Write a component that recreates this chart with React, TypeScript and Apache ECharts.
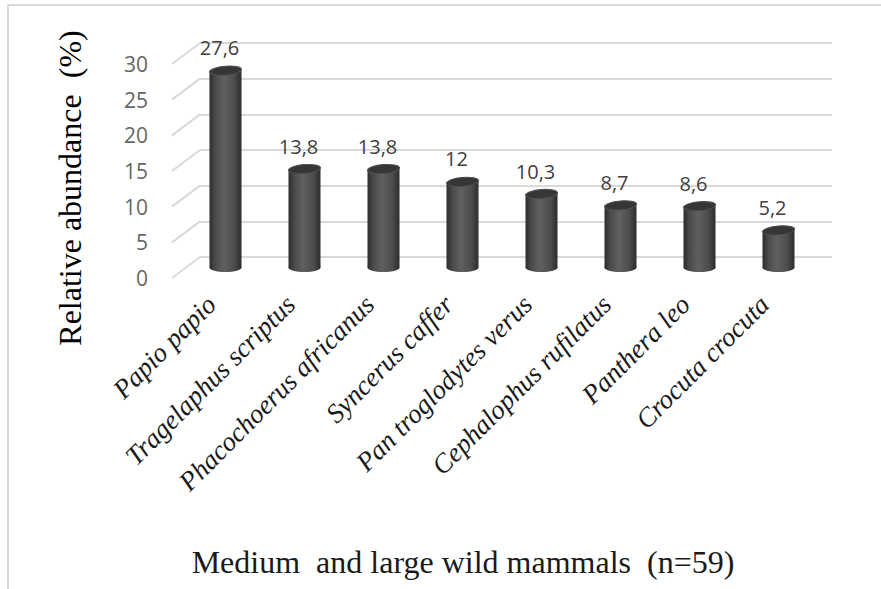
import React, { useEffect, useRef } from "react";
import * as echarts from "echarts";

const categories = [
  "Papio papio",
  "Tragelaphus scriptus",
  "Phacochoerus africanus",
  "Syncerus caffer",
  "Pan troglodytes verus",
  "Cephalophus rufilatus",
  "Panthera leo",
  "Crocuta crocuta",
];
const values = [27.6, 13.8, 13.8, 12, 10.3, 8.7, 8.6, 5.2];
const yTicks = [0, 5, 10, 15, 20, 25, 30];
const yTitle = "Relative abundance  (%)";
const xTitle = "Medium  and large wild mammals  (n=59)";

const BACK_LEFT = 200;
const BACK_TOP = 43;
const PLOT_W = 632;
const PLOT_H = 214;
const DX = 28;
const DY = 21;

const SERIF = "'Liberation Serif', 'Times New Roman', serif";
const SANS = "'Open Sans', 'Noto Sans', sans-serif";

export default function App() {
  const ref = useRef<HTMLDivElement>(null);
  useEffect(() => {
    if (!ref.current) return;
    const chart = echarts.init(ref.current, null, { renderer: "svg" });
    const grid = (k: number) => ({
      left: BACK_LEFT - (DX / 2) * k,
      top: BACK_TOP + (DY / 2) * k,
      width: PLOT_W,
      height: PLOT_H,
    });
    const yBase = { type: "value", min: 0, max: 30, interval: 5 };
    const option: any = {
      animation: false,
      backgroundColor: "#ffffff",
      grid: [grid(0), grid(1), grid(2)],
      xAxis: [0, 1, 2].map((k) => ({
        type: "category",
        gridIndex: k,
        data: categories,
        axisLine: { show: false },
        axisTick: { show: false },
        axisLabel:
          k === 2
            ? {
                show: true,
                interval: 0,
                rotate: 45,
                margin: 22,
                color: "#1a1a1a",
                fontSize: 27,
                fontStyle: "italic",
                fontFamily: SERIF,
              }
            : { show: false },
      })),
      yAxis: [0, 1, 2].map((k) => ({
        ...yBase,
        gridIndex: k,
        axisLine: { show: false },
        axisTick: { show: false },
        splitLine:
          k === 0
            ? { show: true, lineStyle: { color: "#d9d9d9", width: 2 } }
            : { show: false },
        axisLabel:
          k === 2
            ? { show: true, margin: 24, color: "#666666", fontSize: 21, fontFamily: SANS }
            : { show: false },
      })),
      graphic: [
        {
          type: "rect",
          shape: { x: 8, y: 5, width: 900, height: 600 },
          style: { fill: "none", stroke: "#d9d9d9", lineWidth: 2 },
          silent: true,
        },
        {
          type: "text",
          x: 70,
          y: 188,
          rotation: Math.PI / 2,
          style: {
            text: yTitle,
            fill: "#000000",
            fontSize: 32,
            fontFamily: SERIF,
            align: "center",
            verticalAlign: "middle",
          },
        },
        {
          type: "text",
          x: 463,
          y: 562,
          style: {
            text: xTitle,
            fill: "#1a1a1a",
            fontSize: 32,
            fontFamily: SERIF,
            align: "center",
            verticalAlign: "middle",
          },
        },
      ],
      series: [
        {
          type: "custom",
          xAxisIndex: 0,
          yAxisIndex: 0,
          clip: false,
          silent: true,
          data: yTicks.map((v) => [0, v]),
          renderItem: (params: any, api: any) => {
            const y = api.coord([0, api.value(1)])[1];
            const x0 = params.coordSys.x;
            return {
              type: "line",
              shape: { x1: x0, y1: y, x2: x0 - DX, y2: y + DY },
              style: { stroke: "#d9d9d9", lineWidth: 2 },
            };
          },
        },
        {
          type: "custom",
          xAxisIndex: 1,
          yAxisIndex: 1,
          clip: false,
          data: values.map((v, i) => [i, v]),
          encode: { x: 0, y: 1 },
          renderItem: (params: any, api: any) => {
            const idx = api.value(0);
            const v = api.value(1);
            const top = api.coord([idx, v]);
            const bot = api.coord([idx, 0]);
            const cx = top[0];
            const w = 32;
            const rx = w / 2;
            const ry = 4.5;
            const bodyFill = {
              type: "linear",
              x: 0,
              y: 0,
              x2: 1,
              y2: 0,
              colorStops: [
                { offset: 0, color: "#2c2c2c" },
                { offset: 0.18, color: "#4a4a4a" },
                { offset: 0.45, color: "#606060" },
                { offset: 0.78, color: "#4c4c4c" },
                { offset: 1, color: "#2c2c2c" },
              ],
            };
            const label = String(v).replace(".", ",");
            return {
              type: "group",
              children: [
                {
                  type: "ellipse",
                  shape: { cx, cy: bot[1], rx, ry },
                  style: { fill: bodyFill },
                },
                {
                  type: "rect",
                  shape: { x: cx - rx, y: top[1], width: w, height: bot[1] - top[1] },
                  style: { fill: bodyFill },
                },
                {
                  type: "ellipse",
                  shape: { cx, cy: top[1], rx, ry },
                  rotation: 0.08,
                  originX: cx,
                  originY: top[1],
                  style: { fill: "#363636", stroke: "#505050", lineWidth: 1 },
                },
                {
                  type: "text",
                  x: cx - 6,
                  y: top[1] - 23,
                  style: {
                    text: label,
                    fill: "#404040",
                    fontSize: 20,
                    fontFamily: SANS,
                    align: "center",
                    verticalAlign: "middle",
                  },
                },
              ],
            };
          },
        },
      ],
    };
    chart.setOption(option);
    return () => chart.dispose();
  }, []);
  return (
    <div
      ref={ref}
      style={{ position: "absolute", left: 0, top: 0, width: 881, height: 589, background: "#fff" }}
    />
  );
}
